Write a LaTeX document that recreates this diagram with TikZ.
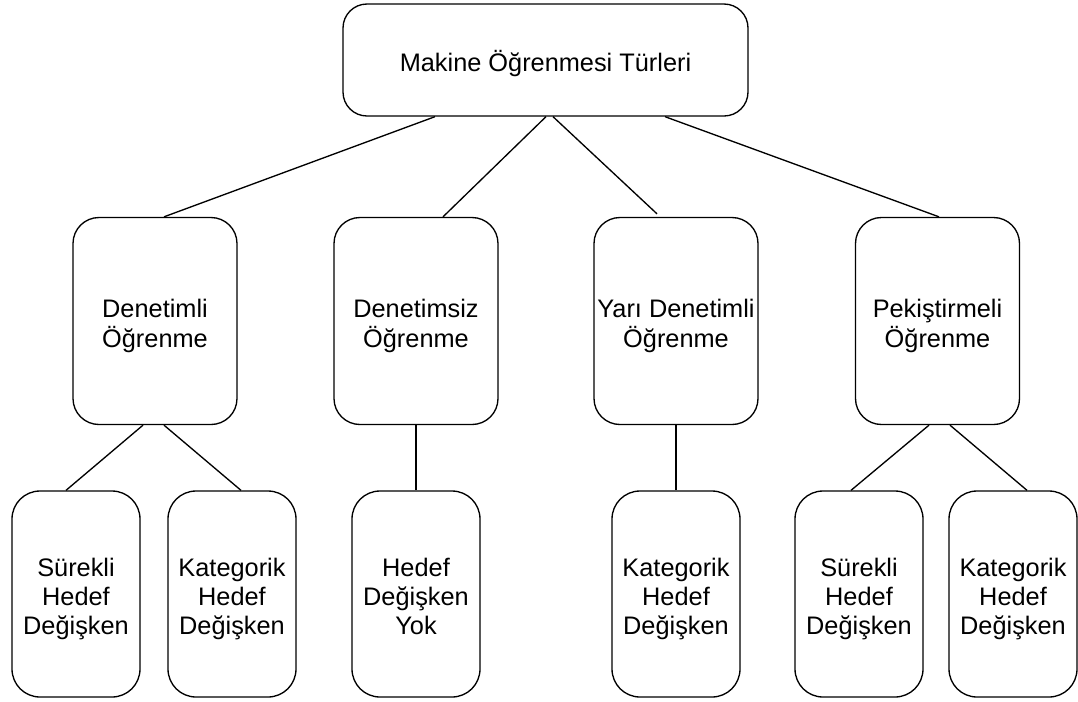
\documentclass[tikz,border=0pt]{standalone}
\usepackage{fontspec}
\setmainfont{Liberation Sans}
\usetikzlibrary{calc}

% centred multi-line label with no height of its own, set a little low in its box
\newcommand\boxtext[1]{\raisebox{-8.5pt}[0pt][0pt]{\begin{tabular}{@{}c@{}}#1\end{tabular}}}

\tikzset{
  box/.style={draw=black, line width=1pt, fill=white, inner sep=0pt,
    font=\fontsize{19pt}{22pt}\selectfont},
  rootbox/.style={box, rounded corners=18pt, minimum width=303.75pt, minimum height=84pt},
  midbox/.style={box, rounded corners=19.5pt, minimum width=123pt, minimum height=155.25pt},
  leafbox/.style={box, rounded corners=21pt, minimum width=96pt, minimum height=154.5pt},
  link/.style={draw=black, line width=1pt}
}

\begin{document}
\begin{tikzpicture}[x=0.75pt, y=-0.75pt]
  % canvas, 1078 x 701 units
  \useasboundingbox (0,0) rectangle (1078,701);

  % root
  \node[rootbox] (root) at (545.5,60) {\boxtext{Makine Öğrenmesi Türleri}};

  % learning types
  \node[midbox] (sup)  at (155,321)   {\boxtext{Denetimli\\Öğrenme}};
  \node[midbox] (uns)  at (416,321)   {\boxtext{Denetimsiz\\Öğrenme}};
  \node[midbox] (semi) at (676,321)   {\boxtext{Yarı Denetimli\\Öğrenme}};
  \node[midbox] (rein) at (937.5,321) {\boxtext{Pekiştirmeli\\Öğrenme}};

  % target variable kinds
  \node[leafbox] (supc) at (76,594)   {\boxtext{Sürekli\\Hedef\\Değişken}};
  \node[leafbox] (supk) at (232,594)  {\boxtext{Kategorik\\Hedef\\Değişken}};
  \node[leafbox] (unsn) at (416,594)  {\boxtext{Hedef\\Değişken\\Yok}};
  \node[leafbox] (semk) at (676,594)  {\boxtext{Kategorik\\Hedef\\Değişken}};
  \node[leafbox] (reic) at (859,594)  {\boxtext{Sürekli\\Hedef\\Değişken}};
  \node[leafbox] (reik) at (1013,594) {\boxtext{Kategorik\\Hedef\\Değişken}};

  % root to learning types
  \draw[link] ($(root.south)+(-110.5,0)$) -- ($(sup.north)+(9,0)$);
  \draw[link] ($(root.south)+(0.5,0)$)    -- ($(uns.north)+(27,0)$);
  \draw[link] ($(root.south)+(7.5,0)$)    -- ($(semi.north)+(-19,-3)$);
  \draw[link] ($(root.south)+(119.5,0)$)  -- ($(rein.north)+(1.5,0)$);

  % learning types to target variable kinds
  \draw[link] ($(sup.south)+(-12,0)$)  -- ($(supc.north)+(-10,0)$);
  \draw[link] ($(sup.south)+(9,0)$)    -- ($(supk.north)+(9,0)$);
  \draw[link] (uns.south)  -- (unsn.north);
  \draw[link] (semi.south) -- (semk.north);
  \draw[link] ($(rein.south)+(-8.5,0)$) -- ($(reic.north)+(-8,0)$);
  \draw[link] ($(rein.south)+(12.5,0)$) -- ($(reik.north)+(14,0)$);
\end{tikzpicture}
\end{document}
